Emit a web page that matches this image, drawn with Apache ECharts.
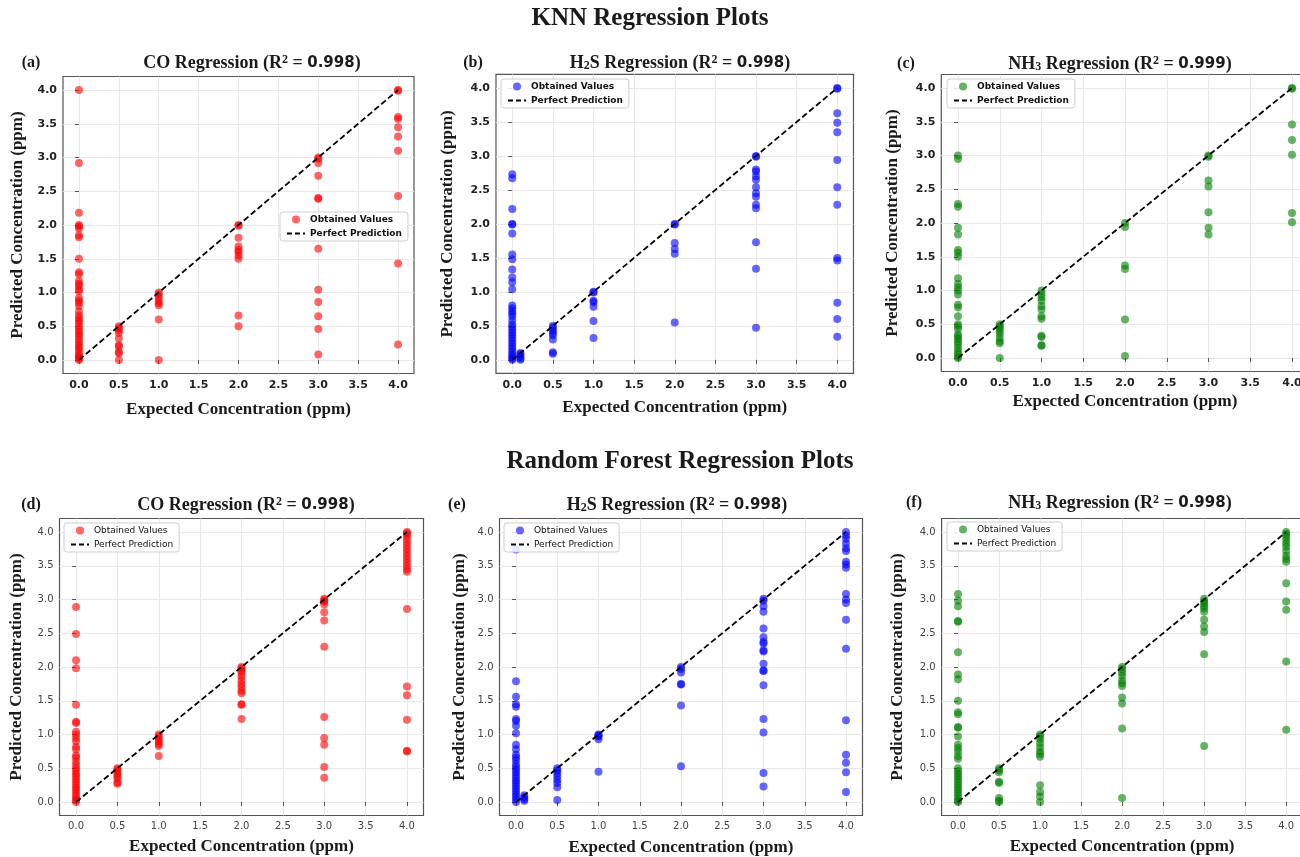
<!DOCTYPE html>
<html>
<head>
<meta charset="utf-8">
<script src="https://cdn.jsdelivr.net/npm/echarts@6/dist/echarts.min.js"></script>
<style>
html, body { margin: 0; padding: 0; background: #fff; }
#chart { width: 1300px; height: 857px; }
</style>
</head>
<body>
<div id="chart"></div>
<script>
// [expected ppm, [predicted ppm ...]]
var knnCO = [
    [0, [4.0, 2.92, 2.18, 2.0, 1.98, 1.95, 1.85, 1.82, 1.5, 1.3, 1.27, 1.17, 1.13, 1.1, 1.05, 1.02, 0.92, 0.88, 0.85, 0.8, 0.72, 0.66, 0.62, 0.58, 0.55, 0.5, 0.46, 0.42, 0.38, 0.35, 0.3, 0.26, 0.22, 0.18, 0.15, 0.1, 0.07, 0.04, 0.02, 0.0]],
    [0.5, [0.5, 0.47, 0.44, 0.4, 0.32, 0.22, 0.2, 0.12, 0.1, 0.0]],
    [1, [1.0, 0.97, 0.93, 0.88, 0.84, 0.81, 0.6, 0.0]],
    [2, [2.0, 1.99, 1.81, 1.68, 1.63, 1.6, 1.55, 1.5, 0.66, 0.5]],
    [3, [3.0, 2.98, 2.92, 2.73, 2.4, 2.39, 1.65, 1.04, 0.86, 0.65, 0.46, 0.08]],
    [4, [4.0, 3.99, 3.6, 3.57, 3.45, 3.31, 3.1, 2.43, 1.43, 0.23]]
];
var knnH2S = [
    [0, [2.73, 2.67, 2.22, 2.0, 1.99, 1.86, 1.55, 1.48, 1.33, 1.21, 1.14, 1.04, 0.8, 0.76, 0.72, 0.68, 0.64, 0.58, 0.52, 0.48, 0.44, 0.4, 0.36, 0.32, 0.28, 0.24, 0.2, 0.16, 0.12, 0.08, 0.05, 0.02, 0.0]],
    [0.1, [0.1, 0.08, 0.05, 0.02, 0.0]],
    [0.5, [0.5, 0.47, 0.43, 0.4, 0.36, 0.3, 0.11, 0.09]],
    [1, [1.0, 0.99, 0.87, 0.85, 0.78, 0.57, 0.32]],
    [2, [2.0, 1.99, 1.72, 1.63, 1.56, 0.55]],
    [3, [3.0, 2.99, 2.8, 2.77, 2.7, 2.65, 2.54, 2.45, 2.4, 2.28, 2.23, 1.73, 1.34, 0.47]],
    [4, [4.0, 3.99, 3.63, 3.49, 3.35, 2.94, 2.54, 2.28, 1.5, 1.46, 0.84, 0.6, 0.34]]
];
var knnNH3 = [
    [0, [3.0, 2.95, 2.28, 2.24, 1.93, 1.83, 1.6, 1.56, 1.5, 1.18, 1.1, 1.05, 1.0, 0.94, 0.79, 0.75, 0.62, 0.5, 0.47, 0.43, 0.35, 0.32, 0.28, 0.24, 0.2, 0.15, 0.1, 0.06, 0.02, 0.0]],
    [0.5, [0.5, 0.47, 0.44, 0.4, 0.36, 0.3, 0.25, 0.22, 0.0]],
    [1, [1.0, 0.95, 0.9, 0.85, 0.77, 0.72, 0.62, 0.58, 0.33, 0.31, 0.19, 0.18]],
    [2, [2.0, 1.94, 1.37, 1.32, 0.57, 0.03]],
    [3, [3.0, 2.98, 2.63, 2.54, 2.16, 1.93, 1.83]],
    [4, [4.0, 3.99, 3.46, 3.23, 3.01, 2.15, 2.01]]
];
var rfCO = [
    [0, [2.89, 2.49, 2.1, 1.98, 1.44, 1.19, 1.17, 1.04, 1.0, 0.95, 0.9, 0.82, 0.78, 0.69, 0.66, 0.6, 0.55, 0.5, 0.46, 0.42, 0.38, 0.34, 0.3, 0.26, 0.22, 0.18, 0.14, 0.1, 0.06, 0.03, 0.0]],
    [0.5, [0.5, 0.48, 0.45, 0.42, 0.38, 0.35, 0.29, 0.27]],
    [1, [1.0, 0.97, 0.93, 0.9, 0.86, 0.83, 0.68]],
    [2, [2.0, 1.98, 1.95, 1.91, 1.86, 1.8, 1.75, 1.7, 1.65, 1.61, 1.45, 1.44, 1.23]],
    [3, [3.01, 2.99, 2.97, 2.93, 2.81, 2.69, 2.3, 1.26, 0.95, 0.85, 0.52, 0.36]],
    [4, [4.0, 3.98, 3.95, 3.9, 3.85, 3.8, 3.75, 3.7, 3.65, 3.6, 3.55, 3.5, 3.45, 3.41, 2.86, 1.71, 1.58, 1.22, 0.76, 0.75]]
];
var rfH2S = [
    [0, [3.74, 1.79, 1.56, 1.45, 1.41, 1.23, 1.2, 1.13, 1.02, 0.85, 0.78, 0.7, 0.66, 0.62, 0.56, 0.52, 0.48, 0.44, 0.4, 0.36, 0.32, 0.28, 0.24, 0.2, 0.16, 0.12, 0.08, 0.04, 0.0]],
    [0.1, [0.1, 0.07, 0.04, 0.02]],
    [0.5, [0.5, 0.47, 0.43, 0.38, 0.33, 0.28, 0.22, 0.03]],
    [1, [1.0, 0.99, 0.97, 0.93, 0.45]],
    [2, [2.0, 1.97, 1.92, 1.75, 1.74, 1.43, 0.53]],
    [3, [3.01, 2.98, 2.9, 2.82, 2.57, 2.44, 2.37, 2.35, 2.25, 2.23, 2.05, 1.95, 1.94, 1.73, 1.23, 1.03, 0.43, 0.23]],
    [4, [4.0, 3.95, 3.9, 3.83, 3.76, 3.72, 3.56, 3.52, 3.47, 3.08, 3.0, 2.95, 2.7, 2.27, 1.21, 0.7, 0.58, 0.44, 0.15]]
];
var rfNH3 = [
    [0, [3.08, 2.98, 2.9, 2.68, 2.67, 2.22, 1.89, 1.82, 1.5, 1.33, 1.3, 1.11, 1.1, 0.97, 0.85, 0.8, 0.75, 0.68, 0.64, 0.5, 0.46, 0.42, 0.38, 0.34, 0.3, 0.26, 0.22, 0.18, 0.14, 0.1, 0.06, 0.02, 0.0]],
    [0.5, [0.5, 0.47, 0.44, 0.3, 0.28, 0.06, 0.02, 0.0]],
    [1, [1.0, 0.97, 0.93, 0.87, 0.81, 0.75, 0.71, 0.67, 0.25, 0.15, 0.08, 0.0]],
    [2, [2.0, 1.97, 1.92, 1.87, 1.8, 1.76, 1.72, 1.55, 1.46, 1.09, 0.06]],
    [3, [3.01, 2.97, 2.95, 2.9, 2.87, 2.82, 2.7, 2.6, 2.52, 2.19, 0.83]],
    [4, [4.0, 3.97, 3.93, 3.88, 3.83, 3.78, 3.72, 3.65, 3.6, 3.56, 3.24, 2.97, 2.85, 2.08, 1.07]]
];
var perfectLine = [[0, 0], [4, 4]];
var tickValues = [0, 0.5, 1, 1.5, 2, 2.5, 3, 3.5, 4];
var r2Values = ['0.998', '0.998', '0.999', '0.998', '0.998', '0.998'];
var gasNames = ['{t|CO}', '{t|H}{sub|2}{t|S}', '{t|NH}{sub|3}', '{t|CO}', '{t|H}{sub|2}{t|S}', '{t|NH}{sub|3}'];
var panelTags = ['(a)', '(b)', '(c)', '(d)', '(e)', '(f)'];

// layout of each subplot (pixels)
var panels = [
    { data: knnCO,  color: '#ff0000', grid: [63, 76.5, 351, 297],    legend: [280, 212], title: [252, 63], tag: [31, 63],  yGap: 37, xGap: 28, top: true },
    { data: knnH2S, color: '#0000ff', grid: [496, 74.4, 357.5, 299], legend: [501, 79],  title: [680, 63], tag: [473, 63], yGap: 40, xGap: 26, top: true },
    { data: knnNH3, color: '#008000', grid: [941.3, 74.5, 367.4, 297], legend: [947, 79], title: [1120, 64], tag: [906, 64], yGap: 40, xGap: 22, top: true },
    { data: rfCO,   color: '#ff0000', grid: [59.5, 518.5, 364, 297], legend: [64, 523],  title: [246, 505], tag: [31, 505], yGap: 34, xGap: 23, top: false },
    { data: rfH2S,  color: '#0000ff', grid: [499.5, 518.5, 363, 297], legend: [504, 523], title: [677, 505], tag: [457, 505], yGap: 31, xGap: 24, top: false },
    { data: rfNH3,  color: '#008000', grid: [941.6, 518.5, 361, 297], legend: [947, 522], title: [1120, 503], tag: [914, 503], yGap: 35, xGap: 23, top: false }
];

var serif = 'Liberation Serif';
var titleRich = {
    t: { fontFamily: serif, fontWeight: 'bold', fontSize: 18, color: '#1a1a1a' },
    sup: { fontFamily: serif, fontWeight: 'bold', fontSize: 12, color: '#1a1a1a', verticalAlign: 'top' },
    sub: { fontFamily: serif, fontWeight: 'bold', fontSize: 12, color: '#1a1a1a', verticalAlign: 'bottom' },
    n: { fontFamily: 'DejaVu Sans', fontWeight: 'bold', fontSize: 15, color: '#1a1a1a' }
};
var nameStyle = { fontFamily: serif, fontWeight: 'bold', fontSize: 17, color: '#1a1a1a' };

function flatten(cols) {
    var pts = [];
    cols.forEach(function (c) {
        c[1].forEach(function (y) { pts.push([c[0], y]); });
    });
    return pts;
}

function axis(i, p, isX) {
    return {
        type: 'value',
        gridIndex: i,
        min: -0.2,
        max: 4.2,
        splitNumber: 9,
        minInterval: 0.5,
        maxInterval: 0.5,
        name: isX ? 'Expected Concentration (ppm)' : 'Predicted Concentration (ppm)',
        nameLocation: 'middle',
        nameGap: isX ? p.xGap : p.yGap,
        nameTextStyle: nameStyle,
        axisLine: { show: false },
        axisTick: { show: true, length: 4, customValues: tickValues, lineStyle: { color: '#555' } },
        axisLabel: {
            customValues: tickValues,
            margin: 6,
            fontFamily: 'DejaVu Sans',
            fontWeight: p.top ? 'bold' : 'normal',
            fontSize: p.top ? 11 : 10,
            color: p.top ? '#222' : '#444',
            formatter: function (v) { return v.toFixed(1); }
        },
        splitLine: { show: true, lineStyle: { color: '#e8e8e8', width: 1 } }
    };
}

var grids = [], xAxes = [], yAxes = [], series = [], legends = [];
var titles = [
    { text: 'KNN Regression Plots', left: 650, top: 19, textAlign: 'center', textVerticalAlign: 'middle', padding: 0,
      textStyle: { fontFamily: serif, fontWeight: 'bold', fontSize: 25, color: '#1a1a1a' } },
    { text: 'Random Forest Regression Plots', left: 680, top: 462, textAlign: 'center', textVerticalAlign: 'middle', padding: 0,
      textStyle: { fontFamily: serif, fontWeight: 'bold', fontSize: 25, color: '#1a1a1a' } }
];

panels.forEach(function (p, i) {
    grids.push({ left: p.grid[0], top: p.grid[1], width: p.grid[2], height: p.grid[3],
        outerBoundsMode: 'none', containLabel: false,
        show: true, borderColor: '#555', borderWidth: 1.2, backgroundColor: 'transparent' });
    xAxes.push(axis(i, p, true));
    yAxes.push(axis(i, p, false));
    series.push({
        type: 'scatter', name: 'Obtained Values', xAxisIndex: i, yAxisIndex: i,
        data: flatten(p.data), symbolSize: 8, silent: true, z: 2,
        itemStyle: { color: p.color, opacity: 0.6 }
    });
    series.push({
        type: 'line', name: 'Perfect Prediction', xAxisIndex: i, yAxisIndex: i,
        data: perfectLine, symbol: 'none', silent: true, z: 3,
        lineStyle: { color: '#000', width: 1.8, type: [6, 3] }
    });
    legends.push({
        left: p.legend[0], top: p.legend[1], orient: 'vertical',
        itemWidth: 18, itemHeight: 8, itemGap: 5, padding: [3, 6],
        borderColor: '#cfcfcf', borderWidth: 1, borderRadius: 3,
        backgroundColor: 'rgba(255,255,255,0.85)', selectedMode: false,
        textStyle: { fontFamily: 'DejaVu Sans', fontWeight: p.top ? 'bold' : 'normal', fontSize: 9, color: '#111' },
        data: [
            { name: 'Obtained Values', icon: 'circle', itemStyle: { color: p.color, opacity: 0.6 } },
            { name: 'Perfect Prediction', itemStyle: { opacity: 0 },
              lineStyle: { color: '#000', width: 2, type: [5, 3] } }
        ]
    });
    titles.push({
        text: gasNames[i] + '{t| Regression (R}{sup|2}{t| = }{n|' + r2Values[i] + '}{t|)}',
        left: p.title[0], top: p.title[1], textAlign: 'center', textVerticalAlign: 'middle', padding: 0,
        textStyle: { rich: titleRich }
    });
    titles.push({
        text: panelTags[i], left: p.tag[0], top: p.tag[1], textAlign: 'center', textVerticalAlign: 'middle', padding: 0,
        textStyle: { fontFamily: serif, fontWeight: 'bold', fontSize: 16, color: '#1a1a1a' }
    });
});

var myChart = echarts.init(document.getElementById('chart'));
myChart.setOption({
    animation: false,
    backgroundColor: '#fff',
    title: titles,
    legend: legends,
    grid: grids,
    xAxis: xAxes,
    yAxis: yAxes,
    series: series
});
</script>
</body>
</html>
